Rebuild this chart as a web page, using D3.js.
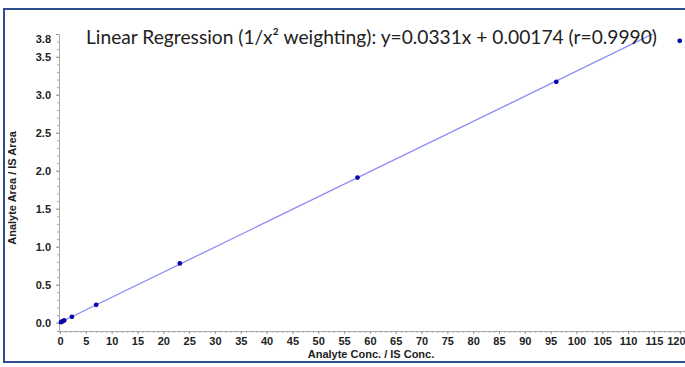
<!DOCTYPE html>
<html>
<head>
<meta charset="utf-8">
<script src="https://cdn.jsdelivr.net/npm/d3@7"></script>
<style>
  body { margin: 0; background: #fff; }
  svg { display: block; }
  .tick text { font-family: "Liberation Sans Narrow", "Liberation Sans", Arial, sans-serif; font-weight: bold; font-size: 11px; fill: #222; }
</style>
</head>
<body>
<svg id="chart" width="685" height="367"></svg>
<script>
// calibration points, x = analyte conc / IS conc, y = area ratio
const concX = [0.2, 0.4, 0.8, 2.3, 7.0, 23.2, 57.6, 96.1, 120.0];
const ratioY = [0.006, 0.015, 0.028, 0.077, 0.235, 0.78, 1.91, 3.17, 3.71];
const slope = 0.0331, intercept = 0.00174;
const xTicks = d3.range(0, 121, 5);
const yTicks = [0, 0.5, 1.0, 1.5, 2.0, 2.5, 3.0, 3.5, 3.8];
const titleText = "Linear Regression (1/x\u00B2 weighting): y=0.0331x + 0.00174 (r=0.9990)";

const svg = d3.select('#chart');

// frame
svg.append('rect')
  .attr('x', 4).attr('y', 9)
  .attr('width', 700).attr('height', 353)
  .attr('fill', 'none')
  .attr('stroke', '#2b4e8c')
  .attr('stroke-width', 2);

const x = d3.scaleLinear().domain([-0.2, 121.6]).range([59, 688]);
const y = d3.scaleLinear().domain([-0.11, 3.8]).range([331, 34]);

// minor ticks (dotted axis look)
const xAxisMinor = d3.axisBottom(x).tickValues(d3.range(0, 122, 1)).tickSize(2).tickFormat('');
const yAxisMinor = d3.axisLeft(y).tickValues(d3.range(0, 38, 1).map(d => d / 10)).tickSize(2).tickFormat('');

svg.append('g').attr('transform', 'translate(0,331)').call(xAxisMinor)
  .call(g => g.selectAll('line, path').attr('stroke', '#aaa'));
svg.append('g').attr('transform', 'translate(59,0)').call(yAxisMinor)
  .call(g => g.selectAll('line, path').attr('stroke', '#aaa'));

// labelled axes
const xAxis = d3.axisBottom(x).tickValues(xTicks).tickSize(3).tickPadding(3).tickFormat(d3.format('d'));
const yAxis = d3.axisLeft(y).tickValues(yTicks).tickSize(3).tickPadding(5).tickFormat(d3.format('.1f'));

svg.append('g').attr('transform', 'translate(0,331)').call(xAxis)
  .call(g => g.select('.domain').remove())
  .call(g => g.selectAll('line').attr('stroke', '#999'))
  // last label sits at the right edge, keep it inside the page
  .call(g => g.selectAll('.tick').filter(d => d === 120).select('text')
    .attr('text-anchor', 'end').attr('x', 685 - x(120)));

svg.append('g').attr('transform', 'translate(59,0)').call(yAxis)
  .call(g => g.select('.domain').remove())
  .call(g => g.selectAll('line').attr('stroke', '#999'))
  .call(g => g.selectAll('.tick').filter(d => d === 3.8).select('text').attr('dy', '0.75em'));

// axis titles
svg.append('text')
  .attr('x', 371).attr('y', 358)
  .attr('text-anchor', 'middle')
  .style('font-family', '"Liberation Sans Narrow", "Liberation Sans", Arial, sans-serif')
  .style('font-weight', 'bold')
  .style('font-size', '11px')
  .attr('fill', '#222')
  .text('Analyte Conc. / IS Conc.');

svg.append('text')
  .attr('transform', 'translate(16,188) rotate(-90)')
  .attr('text-anchor', 'middle')
  .style('font-family', '"Liberation Sans Narrow", "Liberation Sans", Arial, sans-serif')
  .style('font-weight', 'bold')
  .style('font-size', '11px')
  .attr('fill', '#222')
  .text('Analyte Area / IS Area');

// regression line, clipped to plot area
svg.append('clipPath').attr('id', 'plot')
  .append('rect').attr('x', 59).attr('y', 34).attr('width', 630).attr('height', 297);

svg.append('path')
  .datum([0, 120])
  .attr('clip-path', 'url(#plot)')
  .attr('fill', 'none')
  .attr('stroke', '#8c8cf5')
  .attr('stroke-width', 1.3)
  .attr('d', d3.line().x(d => x(d)).y(d => y(slope * d + intercept)));

// points
svg.append('g').selectAll('circle')
  .data(concX.map((c, i) => [c, ratioY[i]]))
  .join('circle')
  .attr('cx', d => x(d[0]))
  .attr('cy', d => y(d[1]))
  .attr('r', 2.4)
  .attr('fill', '#0a0aa8');

// title
svg.append('text')
  .attr('x', 86).attr('y', 44)
  .style('font-family', 'Lato, "Open Sans", sans-serif')
  .style('font-size', '19px')
  .attr('fill', '#222')
  .attr('textLength', 571)
  .attr('lengthAdjust', 'spacingAndGlyphs')
  .text(titleText);
</script>
</body>
</html>
